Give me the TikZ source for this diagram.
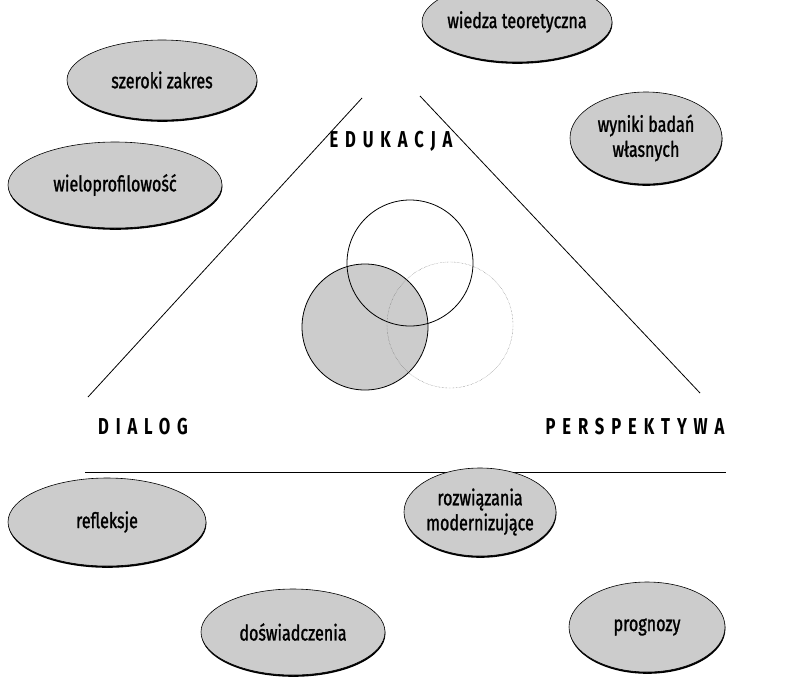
\documentclass[tikz,border=0pt]{standalone}
\usepackage{fontspec}
\setmainfont{Fira Sans}[FakeStretch=0.75, FakeBold=1.2]
\newfontfamily\headfont{Fira Sans}[FakeStretch=0.72, LetterSpace=30]
\usetikzlibrary{shapes.geometric,shadows}

\begin{document}
\begin{tikzpicture}[x=1pt,y=-1pt,
	bubble/.style={ellipse, draw=black, semithick, fill=black!20, inner sep=-12pt, align=center,
		font=\fontsize{21.5}{25}\selectfont,
		drop shadow={shadow xshift=0.4pt, shadow yshift=-1.8pt, fill=black, opacity=1}},
	head/.style={font=\headfont\bfseries\fontsize{23}{25}\selectfont}]
	  \useasboundingbox (0,0) rectangle (786,681);

	  % triangle sides and base line
	  \draw[thick] (88,397) -- (362,98);
	  \draw[thick] (420,96) -- (700,393);
	  \draw[thick] (85,472) -- (726,472);

	  % the three circles
	  \draw[thick, fill=black!20] (365,327) circle (63);
	  \draw[thick] (410,263) circle (63);
	  \draw[densely dotted, black!60] (450,325) circle (63);

	  % labels of the corners
	  \node[head] (edu) at (391,141) {EDUKACJA};
	  \node[head] (dia) at (143,427) {DIALOG};
	  \node[head] (per) at (635,427) {PERSPEKTYWA};

	  % ellipses
	  \node[bubble, minimum width=190, minimum height=80] (sz) at (162,80) {szeroki zakres};
	  \node[bubble, minimum width=190, minimum height=80] (wt) at (517,22) {wiedza teoretyczna};
	  \node[bubble, minimum width=152, minimum height=92] (wb) at (646,138) {wyniki badań\\własnych};
	  \node[bubble, minimum width=214, minimum height=86] (wp) at (115,185) {wieloprofilowość};
	  \node[bubble, minimum width=198, minimum height=88] (rf) at (107,522) {refleksje};
	  \node[bubble, minimum width=152, minimum height=88] (rm) at (480,512) {rozwiązania\\modernizujące};
	  \node[bubble, minimum width=184, minimum height=86] (ds) at (293,632) {doświadczenia};
	  \node[bubble, minimum width=156, minimum height=90] (pg) at (647,627) {prognozy};

\end{tikzpicture}
\end{document}
